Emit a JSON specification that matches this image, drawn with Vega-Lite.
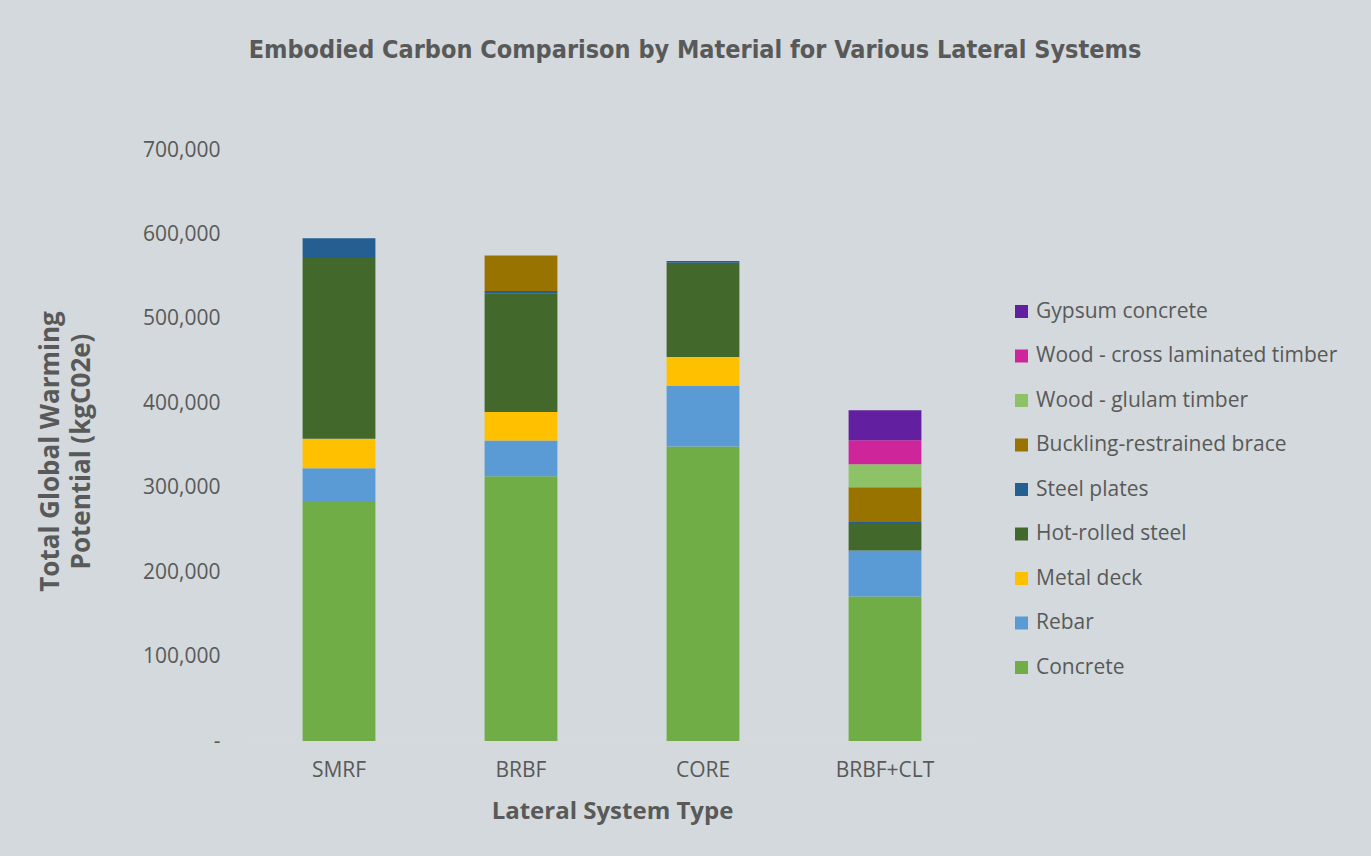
{
  "$schema": "https://vega.github.io/schema/vega-lite/v6.json",
  "autosize": {"type": "none"},
  "width": 728,
  "height": 591,
  "padding": {"left": 248, "top": 150, "right": 395, "bottom": 115},
  "background": "#d3d9dc",
  "title": {
    "text": "Embodied Carbon Comparison by Material for Various Lateral Systems",
    "font": "DejaVu Sans Condensed",
    "fontSize": 25,
    "fontWeight": "bold",
    "color": "#595959",
    "anchor": "middle",
    "dx": 83,
    "offset": 76
  },
  "data": {
    "values": [
      {"system": "SMRF", "material": "Concrete", "value": 283000},
      {"system": "SMRF", "material": "Rebar", "value": 40000},
      {"system": "SMRF", "material": "Metal deck", "value": 35000},
      {"system": "SMRF", "material": "Hot-rolled steel", "value": 214000},
      {"system": "SMRF", "material": "Steel plates", "value": 23500},
      {"system": "BRBF", "material": "Concrete", "value": 313600},
      {"system": "BRBF", "material": "Rebar", "value": 42200},
      {"system": "BRBF", "material": "Metal deck", "value": 33900},
      {"system": "BRBF", "material": "Hot-rolled steel", "value": 140100},
      {"system": "BRBF", "material": "Steel plates", "value": 3100},
      {"system": "BRBF", "material": "Buckling-restrained brace", "value": 42200},
      {"system": "CORE", "material": "Concrete", "value": 348700},
      {"system": "CORE", "material": "Rebar", "value": 71800},
      {"system": "CORE", "material": "Metal deck", "value": 34300},
      {"system": "CORE", "material": "Hot-rolled steel", "value": 111700},
      {"system": "CORE", "material": "Steel plates", "value": 1900},
      {"system": "BRBF+CLT", "material": "Concrete", "value": 171200},
      {"system": "BRBF+CLT", "material": "Rebar", "value": 54500},
      {"system": "BRBF+CLT", "material": "Hot-rolled steel", "value": 32600},
      {"system": "BRBF+CLT", "material": "Steel plates", "value": 1200},
      {"system": "BRBF+CLT", "material": "Buckling-restrained brace", "value": 41100},
      {"system": "BRBF+CLT", "material": "Wood - glulam timber", "value": 27200},
      {"system": "BRBF+CLT", "material": "Wood - cross laminated timber", "value": 28400},
      {"system": "BRBF+CLT", "material": "Gypsum concrete", "value": 35500}
    ]
  },
  "transform": [
    {"calculate": "indexof(['Concrete','Rebar','Metal deck','Hot-rolled steel','Steel plates','Buckling-restrained brace','Wood - glulam timber','Wood - cross laminated timber','Gypsum concrete'], datum.material)", "as": "stackOrder"}
  ],
  "mark": {"type": "bar"},
  "encoding": {
    "x": {
      "field": "system",
      "type": "nominal",
      "sort": ["SMRF", "BRBF", "CORE", "BRBF+CLT"],
      "scale": {"paddingInner": 0.6, "paddingOuter": 0.3},
      "axis": {
        "title": "Lateral System Type",
        "titleFont": "Open Sans",
        "titleFontSize": 24,
        "titleFontWeight": "bold",
        "titleColor": "#595959",
        "titlePadding": 19,
        "labelFont": "Open Sans",
        "labelFontSize": 21,
        "labelColor": "#595959",
        "labelAngle": 0,
        "labelPadding": 18,
        "ticks": false,
        "domainColor": "#d9d9d9",
        "domainWidth": 2
      }
    },
    "y": {
      "field": "value",
      "type": "quantitative",
      "stack": "zero",
      "scale": {"domain": [0, 700000], "nice": false},
      "axis": {
        "title": ["Total Global Warming", "Potential (kgC02e)"],
        "titleFont": "Open Sans",
        "titleFontSize": 26,
        "titleFontWeight": "bold",
        "titleColor": "#595959",
        "titleLineHeight": 31,
        "titleX": -198,
        "titleY": 301,
        "titleAngle": -90,
        "titleAlign": "center",
        "titleBaseline": "middle",
        "values": [0, 100000, 200000, 300000, 400000, 500000, 600000, 700000],
        "labelExpr": "datum.value == 0 ? '-\u2003' : format(datum.value, ',')",
        "labelFont": "Open Sans",
        "labelFontSize": 21,
        "labelColor": "#595959",
        "labelPadding": 28,
        "ticks": false,
        "domain": false,
        "grid": false
      }
    },
    "color": {
      "field": "material",
      "type": "nominal",
      "scale": {
        "domain": ["Gypsum concrete", "Wood - cross laminated timber", "Wood - glulam timber", "Buckling-restrained brace", "Steel plates", "Hot-rolled steel", "Metal deck", "Rebar", "Concrete"],
        "range": ["#621fa0", "#cf259a", "#8dc266", "#997300", "#255e91", "#43682b", "#ffc000", "#5b9bd5", "#70ad47"]
      },
      "legend": {
        "title": null,
        "orient": "none",
        "legendX": 763,
        "legendY": 151,
        "symbolType": "square",
        "symbolSize": 169,
        "symbolStrokeWidth": 0,
        "labelFont": "Open Sans",
        "labelFontSize": 21,
        "labelColor": "#595959",
        "labelOffset": 4,
        "rowPadding": 22.5,
        "labelLimit": 400
      }
    },
    "order": {"field": "stackOrder", "type": "quantitative", "sort": "ascending"}
  },
  "config": {
    "view": {"stroke": null}
  }
}
